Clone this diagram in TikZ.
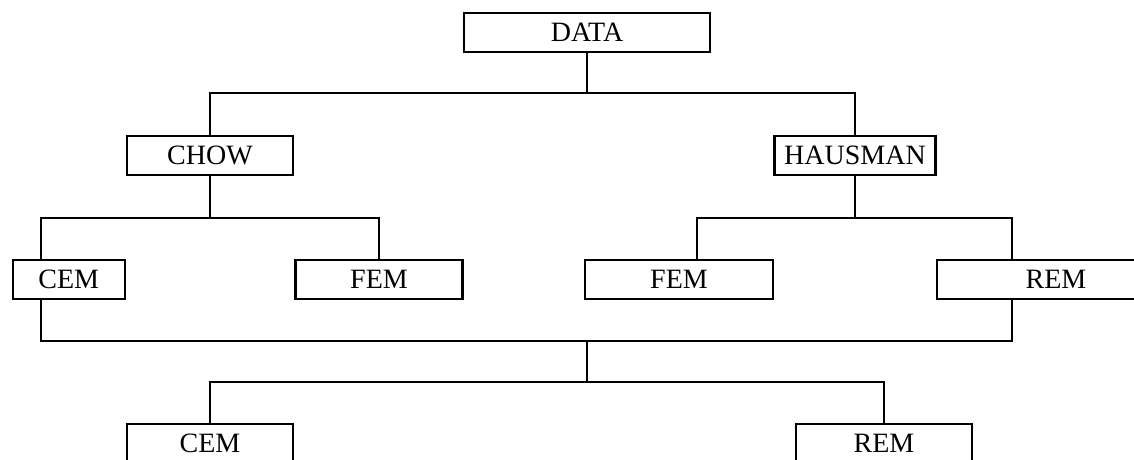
\documentclass[tikz,border=0pt]{standalone}
\usepackage{fontspec}
\setmainfont{Liberation Serif}
\begin{document}
\begin{tikzpicture}[x=1pt,y=-1pt,
  box/.style={draw,line width=2.3pt,inner sep=0pt,minimum height=39pt,font=\fontsize{28}{34}\selectfont},
  conn/.style={line width=2.3pt,line join=miter}]
\useasboundingbox (0,0) rectangle (1134,460);
\clip (0,0) rectangle (1134,460);
\node[box,minimum width=246pt] (data) at (587,32.5) {DATA};
\node[box,minimum width=166pt] (chow) at (210,155.5) {CHOW};
\node[box,minimum width=161pt] (haus) at (855,155.5) {HAUSMAN};
\node[box,minimum width=112pt] (cem1) at (68.8,279.5) {CEM};
\node[box,minimum width=167pt] (fem1) at (379,279.5) {FEM};
\node[box,minimum width=188pt] (fem2) at (679,279.5) {FEM};
\node[box,minimum width=238pt] (rem1) at (1056,279.5) {REM};
\node[box,minimum width=166pt] (cem2) at (210,443.5) {CEM};
\node[box,minimum width=176pt] (rem2) at (884,443.5) {REM};
\coordinate (j1) at (587,93);
\coordinate (j2) at (210,218);
\coordinate (j3) at (855,218);
\coordinate (j4) at (587,341);
\coordinate (j5) at (587,382);
\coordinate (l1) at (41,0);
\coordinate (r1) at (697,0);
\coordinate (r2) at (1012,0);
\draw[conn] (data.south) -- (j1);
\draw[conn] (chow.north) |- (j1) -| (haus.north);
\draw[conn] (chow.south) -- (j2);
\draw[conn] (cem1.north -| l1) |- (j2) -| (fem1.north);
\draw[conn] (haus.south) -- (j3);
\draw[conn] (fem2.north -| r1) |- (j3) -| (rem1.north -| r2);
\draw[conn] (cem1.south -| l1) |- (j4) -| (rem1.south -| r2);
\draw[conn] (j4) -- (j5);
\draw[conn] (cem2.north) |- (j5) -| (rem2.north);
\end{tikzpicture}
\end{document}
